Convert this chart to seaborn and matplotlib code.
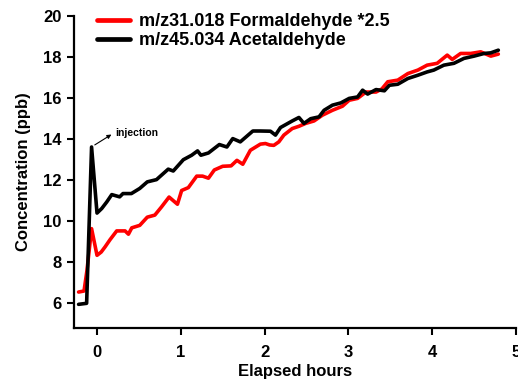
import numpy as np
import pandas as pd
import matplotlib
matplotlib.use("Agg")
import matplotlib.pyplot as plt
import seaborn as sns

# Data
form_x = [-0.22, -0.155, -0.12, -0.065, 0.0, 0.05, 0.096, 0.155, 0.235, 0.335, 0.375, 0.415,
          0.51, 0.60, 0.69, 0.77, 0.86, 0.96, 1.01, 1.09, 1.19, 1.26, 1.33, 1.40, 1.50,
          1.60, 1.67, 1.74, 1.83, 1.95, 2.01, 2.06, 2.11, 2.17, 2.23, 2.33, 2.41, 2.49,
          2.59, 2.69, 2.81, 2.93, 3.01, 3.11, 3.21, 3.33, 3.40, 3.47, 3.59, 3.71, 3.83,
          3.94, 4.06, 4.18, 4.24, 4.34, 4.46, 4.58, 4.70, 4.79]
form_y = [6.55, 6.6, 7.6, 9.64, 8.34, 8.5, 8.75, 9.1, 9.53, 9.53, 9.37, 9.68,
          9.8, 10.2, 10.3, 10.7, 11.18, 10.83, 11.5, 11.64, 12.2, 12.2, 12.1, 12.5, 12.68,
          12.7, 12.97, 12.78, 13.46, 13.76, 13.79, 13.72, 13.7, 13.87, 14.2, 14.52, 14.63, 14.77,
          14.89, 15.17, 15.41, 15.61, 15.9, 15.99, 16.3, 16.3, 16.45, 16.8, 16.88, 17.2, 17.37,
          17.61, 17.7, 18.1, 17.89, 18.18, 18.18, 18.26, 18.05, 18.15]

acet_x = [-0.22, -0.124, -0.065, 0.0, 0.056, 0.116, 0.176, 0.27, 0.31, 0.41, 0.51, 0.60,
          0.71, 0.85, 0.91, 1.03, 1.13, 1.2, 1.24, 1.33, 1.46, 1.55, 1.62, 1.71, 1.86,
          1.95, 2.07, 2.13, 2.19, 2.33, 2.41, 2.47, 2.55, 2.65, 2.71, 2.81, 2.91, 3.01,
          3.11, 3.17, 3.23, 3.33, 3.43, 3.49, 3.59, 3.71, 3.83, 3.94, 4.02, 4.14, 4.26,
          4.38, 4.50, 4.62, 4.70, 4.79]
acet_y = [5.95, 6.0, 13.62, 10.4, 10.62, 10.94, 11.3, 11.19, 11.35, 11.35, 11.6, 11.92,
          12.03, 12.54, 12.45, 13.0, 13.22, 13.43, 13.22, 13.33, 13.74, 13.62, 14.03, 13.87, 14.4,
          14.4, 14.39, 14.2, 14.57, 14.89, 15.06, 14.77, 15.0, 15.09, 15.41, 15.66, 15.77, 15.99,
          16.06, 16.39, 16.2, 16.42, 16.36, 16.63, 16.68, 16.96, 17.12, 17.28, 17.37, 17.61, 17.7,
          17.94, 18.05, 18.18, 18.21, 18.34]

labels = ["m/z31.018 Formaldehyde *2.5", "m/z45.034 Acetaldehyde"]
colors = ["#ff0000", "#000000"]

df = pd.concat([
    pd.DataFrame({"hours": form_x, "conc": form_y, "series": labels[0]}),
    pd.DataFrame({"hours": acet_x, "conc": acet_y, "series": labels[1]}),
])

sns.set_style("ticks")
plt.rcParams['font.family'] = ['Liberation Sans', 'DejaVu Sans']
plt.rcParams['font.weight'] = 'bold'
plt.rcParams['text.color'] = 'black'
plt.rcParams['axes.labelcolor'] = 'black'
plt.rcParams['xtick.color'] = 'black'
plt.rcParams['ytick.color'] = 'black'

fig = plt.figure(figsize=(5.18, 3.84), dpi=100)
ax = fig.add_axes([0.142, 0.146, 0.854, 0.812])

sns.lineplot(data=df, x="hours", y="conc", hue="series", palette=dict(zip(labels, colors)),
             linewidth=2.6, sort=False, ax=ax)

ax.set_xlim(-0.28, 5.0)
ax.set_ylim(4.8, 20)
ax.set_xticks([0, 1, 2, 3, 4, 5])
ax.set_yticks([6, 8, 10, 12, 14, 16, 18, 20])
ax.tick_params(axis='both', labelsize=12, width=1.5, length=5, direction='out',
               colors='black')
ax.tick_params(axis='x', pad=7)
for lab in ax.get_xticklabels() + ax.get_yticklabels():
    lab.set_fontweight('bold')
for s in ['top', 'right']:
    ax.spines[s].set_visible(False)
for s in ['left', 'bottom']:
    ax.spines[s].set_linewidth(1.6)
    ax.spines[s].set_color('black')

ax.set_xlabel("Elapsed hours", fontsize=12, fontweight='bold', labelpad=3)
ax.set_ylabel("Concentration (ppb)", fontsize=12, fontweight='bold', labelpad=9)

leg = ax.legend(loc='upper left', bbox_to_anchor=(0.053, 1.01), frameon=False,
                borderaxespad=0, borderpad=0,
                handlelength=1.85, handletextpad=0.45, labelspacing=0.12,
                prop={'weight': 'bold', 'size': 13})
for line in leg.get_lines():
    line.set_linewidth(3.4)

ax.annotate("", xy=(0.20, 14.3), xytext=(-0.055, 13.65),
            arrowprops=dict(arrowstyle='-|>', color='black', lw=0.8, mutation_scale=6))
ax.text(0.22, 14.3, "injection", fontsize=7.5, fontweight='bold', va='center', ha='left')

fig.savefig("out.png", dpi=100)
